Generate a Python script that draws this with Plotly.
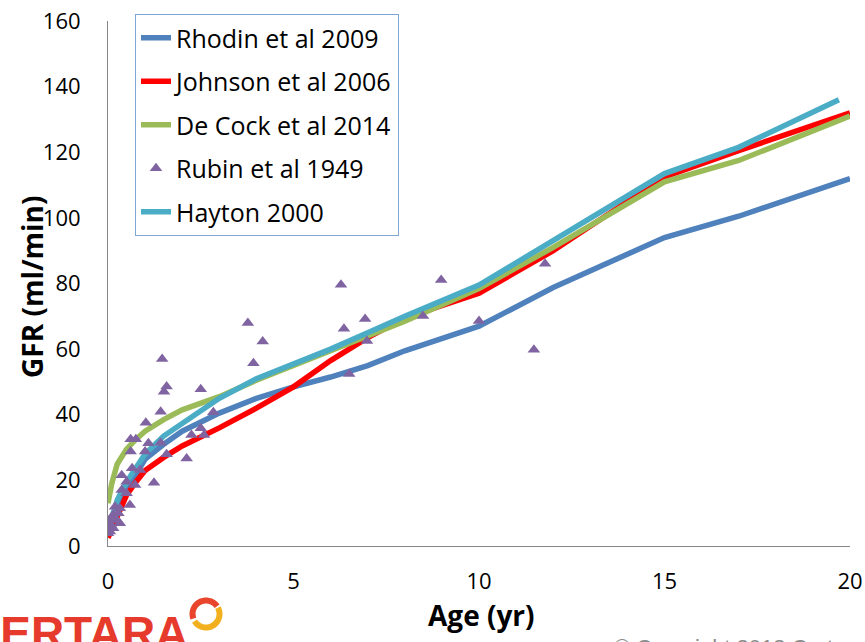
import numpy as np
import plotly.graph_objects as go

# ---------------- data ----------------
curve_age = [0, 0.1, 0.25, 0.5, 0.75, 1, 1.5, 2, 3, 4, 5, 6, 7, 8, 10, 12, 15, 17, 20]
rhodin_gfr = [4, 7, 11, 17, 22, 26.5, 31, 35, 40.5, 45, 48.5, 51.5, 55, 59.5, 67, 78.8, 94, 100.5, 112]
johnson_gfr = [2.5, 5, 9, 15.5, 19.5, 23, 27, 30.5, 36, 42, 48.5, 56.5, 63.5, 69.5, 77, 90, 112.5, 120.5, 132]
decock_gfr = [13, 19, 25, 29.5, 32.5, 35, 38.5, 41.5, 45.5, 50.5, 55, 59.5, 64, 68.5, 78.5, 91, 111, 117.5, 131]
hayton_age = [0, 0.1, 0.25, 0.5, 0.75, 1, 1.5, 2, 3, 4, 5, 6, 7, 8, 10, 12, 15, 17, 19.7]
hayton_gfr = [5, 8.5, 14, 19.5, 24, 28, 33.5, 37.5, 45, 51, 55.5, 60, 65, 70, 79.5, 93, 113.5, 121.5, 136]

rubin_age = [0.0, 0.02, 0.05, 0.05, 0.08, 0.1, 0.14, 0.14, 0.19, 0.23, 0.28, 0.32, 0.32,
             0.37, 0.37, 0.5, 0.5, 0.59, 0.61, 0.61, 0.65, 0.73, 0.75, 0.86, 1.0, 1.02,
             1.09, 1.24, 1.42, 1.42, 1.46, 1.51, 1.58, 1.58, 2.12, 2.25, 2.5, 2.5, 2.59,
             2.84, 3.77, 3.92, 4.17, 6.28, 6.36, 6.5, 6.93, 6.98, 8.49, 8.98, 10.0, 11.48, 11.78]
rubin_gfr = [3.9, 5.9, 4.4, 7.9, 6.5, 8.5, 5.4, 9.5, 12.0, 7.9, 10.0, 6.9, 11.5,
             17.1, 21.6, 16.1, 19.6, 12.5, 28.8, 32.5, 23.7, 18.6, 32.5, 23.2, 28.8, 37.6,
             31.3, 19.3, 31.5, 40.9, 57.0, 47.0, 48.6, 28.0, 26.7, 33.8, 47.8, 35.9, 33.8,
             40.8, 68.0, 55.7, 62.3, 79.6, 66.2, 52.4, 69.2, 62.5, 70.1, 81.1, 68.6, 59.8, 86.0]

x_ticks = [0, 5, 10, 15, 20]
y_ticks = [0, 20, 40, 60, 80, 100, 120, 140, 160]
x_title = "Age (yr)"
y_title = "GFR (ml/min)"

# ---------------- figure ----------------
W, H = 865, 642
ML, MR, MT, MB = 108, 15, 21, 96
PW, PH = W - ML - MR, H - MT - MB


def px2paper(px, py):
    return (px - ML) / PW, (H - MB - py) / PH


fig = go.Figure()

line_series = [
    ("Rhodin et al 2009", curve_age, rhodin_gfr, "#4F81BD", 1),
    ("Johnson et al 2006", curve_age, johnson_gfr, "#FF0000", 2),
    ("De Cock et al 2014", curve_age, decock_gfr, "#9BBB59", 3),
    ("Hayton 2000", hayton_age, hayton_gfr, "#4BACC6", 5),
]
for name, xs, ys, col, rank in line_series:
    fig.add_trace(go.Scatter(
        x=xs, y=ys, mode="lines", name=name,
        line=dict(color=col, width=5.5),
        legendgroup=name, legendrank=rank,
    ))

fig.add_trace(go.Scatter(
    x=rubin_age, y=rubin_gfr, mode="markers", name="Rubin et al 1949",
    marker=dict(symbol="triangle-up", size=11, color="#8064A2"),
    legendgroup="Rubin et al 1949", legendrank=4,
))

fig.update_layout(
    width=W, height=H,
    margin=dict(l=ML, r=MR, t=MT, b=MB, autoexpand=False),
    paper_bgcolor="white", plot_bgcolor="white",
    font=dict(family="Open Sans", color="black"),
    legend=dict(
        xref="container", yref="container",
        x=135 / W, y=1 - 14 / H, xanchor="left", yanchor="top",
        bordercolor="#7FA6D6", borderwidth=1, bgcolor="white",
        font=dict(size=25, color="black"),
        tracegroupgap=8, traceorder="grouped",
    ),
    xaxis=dict(
        range=[0, 20], tickvals=x_ticks, ticktext=[str(v) for v in x_ticks],
        showline=True, linecolor="#868686", linewidth=1,
        showgrid=False, zeroline=False,
        ticks="outside", ticklen=16, tickcolor="rgba(0,0,0,0)",
        tickfont=dict(size=22, color="black"),
    ),
    yaxis=dict(
        range=[0, 160], tickvals=y_ticks, ticktext=[str(v) for v in y_ticks],
        showline=True, linecolor="#868686", linewidth=1,
        showgrid=False, zeroline=False,
        ticks="outside", ticklen=22, tickcolor="rgba(0,0,0,0)",
        tickfont=dict(size=22, color="black"),
    ),
)

# axis titles
tx, ty = px2paper(481, 615)
fig.add_annotation(
    text=f"<b>{x_title}</b>", xref="paper", yref="paper", x=tx, y=ty,
    xanchor="center", yanchor="middle", showarrow=False,
    font=dict(size=28, color="black"),
)
tx, ty = px2paper(32, 287)
fig.add_annotation(
    text=f"<b>{y_title}</b>", xref="paper", yref="paper", x=tx, y=ty,
    xanchor="center", yanchor="middle", showarrow=False, textangle=-90,
    font=dict(size=28, color="black"),
)

# ---------------- logo & copyright (decoration, cropped as in the source) ----------------
ax_, ay_ = px2paper(190, 605)
fig.add_annotation(
    text="<b>CERTARA</b>", xref="paper", yref="paper", x=ax_, y=ay_,
    xanchor="right", yanchor="top", showarrow=False,
    font=dict(family="Liberation Sans", size=46, color="#E63B2C"),
)


def arc_path(r, a0, a1, n=40):
    t = np.radians(np.linspace(a0, a1, n))
    pts = [f"{r*np.cos(a):.2f},{r*np.sin(a):.2f}" for a in t]
    return "M" + " L".join(pts)


cx, cy = px2paper(206, 614)
for a0, a1, col in [(200, 35, "#E8452C"), (28, -148, "#F2B01E")]:
    fig.add_shape(
        type="path", xref="paper", yref="paper",
        xsizemode="pixel", ysizemode="pixel", xanchor=cx, yanchor=cy,
        path=arc_path(13.5, a0, a1), line=dict(color=col, width=6),
    )

cpx, cpy = px2paper(612, 633)
fig.add_annotation(
    text="© Copyright 2018 Certara", xref="paper", yref="paper", x=cpx, y=cpy,
    xanchor="left", yanchor="top", showarrow=False,
    font=dict(family="Liberation Sans", size=22, color="#8C8C8C"),
)

fig.write_html(
    "out.html",
    config={"displayModeBar": False},
    post_script="document.body.style.margin='0';document.body.style.overflow='hidden';",
)
